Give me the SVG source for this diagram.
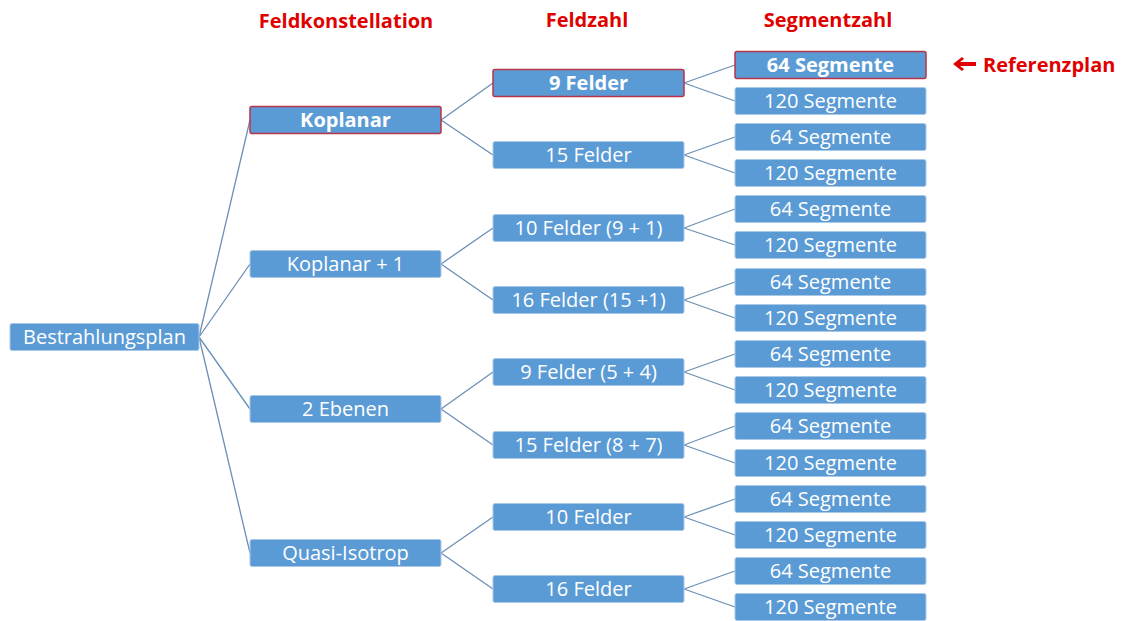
<svg xmlns="http://www.w3.org/2000/svg" width="1126" height="621" viewBox="0 0 1126 621">
  <style>
    .box { fill: #5b9bd5; stroke: #a9c8e8; stroke-width: 1; }
    .hl { fill: #5b9bd5; stroke: #b8344a; stroke-width: 1.5; }
    .lbl { font-family: "Open Sans", "Liberation Sans", sans-serif; font-size: 20px; fill: #ffffff; text-anchor: middle; }
    .b { font-weight: bold; }
    .head { font-family: "Open Sans", "Liberation Sans", sans-serif; font-size: 20px; font-weight: bold; fill: #e00000; text-anchor: middle; }
    .edge { stroke: #6a8fb5; stroke-width: 1.3; fill: none; }
  </style>
  <rect width="1126" height="621" fill="#ffffff"/>

  <!-- column headings -->
  <text class="head" x="346" y="28">Feldkonstellation</text>
  <text class="head" x="587" y="27">Feldzahl</text>
  <text class="head" x="828" y="27">Segmentzahl</text>

  <!-- reference marker -->
  <g id="referenzplan">
    <polygon points="953,64 962,57 964,59 960,62 976,62 976,66 960,66 964,69 962,71" fill="#e00000"/>
    <text class="head" x="983" y="72" style="text-anchor:start">Referenzplan</text>
  </g>

  <!-- connectors -->
  <g id="connectors" class="edge">
    <path d="M199 337 L250 120 M199 337 L250 264 M199 337 L250 409 M199 337 L250 553"/>
    <path d="M441 120 L493 83 M441 120 L493 155"/>
    <path d="M441 264 L493 228 M441 264 L493 300"/>
    <path d="M441 409 L493 372 M441 409 L493 445"/>
    <path d="M441 553 L493 517 M441 553 L493 589"/>
    <path d="M684 83 L735 65 M684 83 L735 101"/>
    <path d="M684 155 L735 137 M684 155 L735 173"/>
    <path d="M684 228 L735 209 M684 228 L735 245"/>
    <path d="M684 300 L735 282 M684 300 L735 318"/>
    <path d="M684 372 L735 354 M684 372 L735 390"/>
    <path d="M684 445 L735 426 M684 445 L735 463"/>
    <path d="M684 517 L735 499 M684 517 L735 535"/>
    <path d="M684 589 L735 571 M684 589 L735 607"/>
  </g>

  <!-- root -->
  <g id="n-root"><rect class="box" x="10" y="323.5" width="189" height="27" rx="2"/><text class="lbl" x="104.5" y="343.5">Bestrahlungsplan</text></g>

  <!-- Feldkonstellation -->
  <g id="n-koplanar"><rect class="hl" x="250" y="106.5" width="191" height="27" rx="2"/><text class="lbl b" x="345.5" y="126.5">Koplanar</text></g>
  <g id="n-koplanar1"><rect class="box" x="250" y="250.5" width="191" height="27" rx="2"/><text class="lbl" x="345.5" y="270.5">Koplanar + 1</text></g>
  <g id="n-2ebenen"><rect class="box" x="250" y="395.5" width="191" height="27" rx="2"/><text class="lbl" x="345.5" y="415.5">2 Ebenen</text></g>
  <g id="n-quasi"><rect class="box" x="250" y="539.5" width="191" height="27" rx="2"/><text class="lbl" x="345.5" y="559.5">Quasi-Isotrop</text></g>

  <!-- Feldzahl -->
  <g id="n-f1"><rect class="hl" x="493" y="69.5" width="191" height="27" rx="2"/><text class="lbl b" x="588.5" y="89.5">9 Felder</text></g>
  <g id="n-f2"><rect class="box" x="493" y="141.5" width="191" height="27" rx="2"/><text class="lbl" x="588.5" y="161.5">15 Felder</text></g>
  <g id="n-f3"><rect class="box" x="493" y="214.5" width="191" height="27" rx="2"/><text class="lbl" x="588.5" y="234.5">10 Felder (9 + 1)</text></g>
  <g id="n-f4"><rect class="box" x="493" y="286.5" width="191" height="27" rx="2"/><text class="lbl" x="588.5" y="306.5">16 Felder (15 +1)</text></g>
  <g id="n-f5"><rect class="box" x="493" y="358.5" width="191" height="27" rx="2"/><text class="lbl" x="588.5" y="378.5">9 Felder (5 + 4)</text></g>
  <g id="n-f6"><rect class="box" x="493" y="431.5" width="191" height="27" rx="2"/><text class="lbl" x="588.5" y="451.5">15 Felder (8 + 7)</text></g>
  <g id="n-f7"><rect class="box" x="493" y="503.5" width="191" height="27" rx="2"/><text class="lbl" x="588.5" y="523.5">10 Felder</text></g>
  <g id="n-f8"><rect class="box" x="493" y="575.5" width="191" height="27" rx="2"/><text class="lbl" x="588.5" y="595.5">16 Felder</text></g>

  <!-- Segmentzahl -->
  <g id="n-s1"><rect class="hl" x="735" y="51.5" width="191" height="27" rx="2"/><text class="lbl b" x="830.5" y="71.5">64 Segmente</text></g>
  <g id="n-s2"><rect class="box" x="735" y="87.5" width="191" height="27" rx="2"/><text class="lbl" x="830.5" y="107.5">120 Segmente</text></g>
  <g id="n-s3"><rect class="box" x="735" y="123.5" width="191" height="27" rx="2"/><text class="lbl" x="830.5" y="143.5">64 Segmente</text></g>
  <g id="n-s4"><rect class="box" x="735" y="159.5" width="191" height="27" rx="2"/><text class="lbl" x="830.5" y="179.5">120 Segmente</text></g>
  <g id="n-s5"><rect class="box" x="735" y="195.5" width="191" height="27" rx="2"/><text class="lbl" x="830.5" y="215.5">64 Segmente</text></g>
  <g id="n-s6"><rect class="box" x="735" y="231.5" width="191" height="27" rx="2"/><text class="lbl" x="830.5" y="251.5">120 Segmente</text></g>
  <g id="n-s7"><rect class="box" x="735" y="268.5" width="191" height="27" rx="2"/><text class="lbl" x="830.5" y="288.5">64 Segmente</text></g>
  <g id="n-s8"><rect class="box" x="735" y="304.5" width="191" height="27" rx="2"/><text class="lbl" x="830.5" y="324.5">120 Segmente</text></g>
  <g id="n-s9"><rect class="box" x="735" y="340.5" width="191" height="27" rx="2"/><text class="lbl" x="830.5" y="360.5">64 Segmente</text></g>
  <g id="n-s10"><rect class="box" x="735" y="376.5" width="191" height="27" rx="2"/><text class="lbl" x="830.5" y="396.5">120 Segmente</text></g>
  <g id="n-s11"><rect class="box" x="735" y="412.5" width="191" height="27" rx="2"/><text class="lbl" x="830.5" y="432.5">64 Segmente</text></g>
  <g id="n-s12"><rect class="box" x="735" y="449.5" width="191" height="27" rx="2"/><text class="lbl" x="830.5" y="469.5">120 Segmente</text></g>
  <g id="n-s13"><rect class="box" x="735" y="485.5" width="191" height="27" rx="2"/><text class="lbl" x="830.5" y="505.5">64 Segmente</text></g>
  <g id="n-s14"><rect class="box" x="735" y="521.5" width="191" height="27" rx="2"/><text class="lbl" x="830.5" y="541.5">120 Segmente</text></g>
  <g id="n-s15"><rect class="box" x="735" y="557.5" width="191" height="27" rx="2"/><text class="lbl" x="830.5" y="577.5">64 Segmente</text></g>
  <g id="n-s16"><rect class="box" x="735" y="593.5" width="191" height="27" rx="2"/><text class="lbl" x="830.5" y="613.5">120 Segmente</text></g>
</svg>
